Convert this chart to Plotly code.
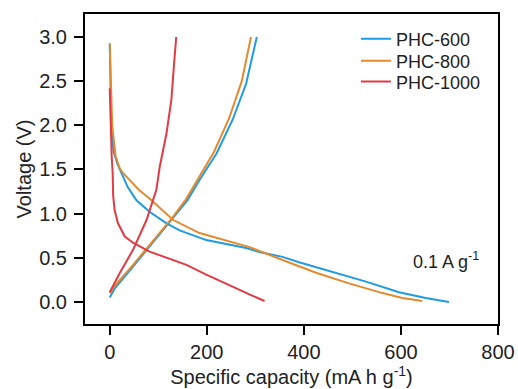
import plotly.graph_objects as go

names = ["PHC-600", "PHC-800", "PHC-1000"]
colors = ["#1f9be3", "#e38a2e", "#e23b45"]

# discharge branches (capacity, voltage)
dis600_x = [0, 1, 3, 8, 16, 24, 37, 55, 82, 117, 144, 199, 247, 281, 308, 356, 390, 459, 528, 596, 651, 699]
dis600_y = [2.92, 2.5, 2.0, 1.7, 1.56, 1.46, 1.30, 1.15, 1.02, 0.89, 0.81, 0.70, 0.645, 0.61, 0.565, 0.51, 0.45, 0.34, 0.23, 0.11, 0.045, 0.0]
dis800_x = [0, 1, 2, 5, 12, 20, 27, 60, 86, 130, 185, 247, 288, 356, 425, 493, 562, 603, 644]
dis800_y = [2.93, 2.7, 2.5, 2.0, 1.65, 1.52, 1.46, 1.27, 1.15, 0.93, 0.78, 0.68, 0.62, 0.475, 0.33, 0.21, 0.10, 0.045, 0.01]
dis1000_x = [0, 1, 2, 4, 6, 7, 10, 17, 31, 48, 82, 117, 158, 199, 253, 290, 319]
dis1000_y = [2.42, 2.2, 1.91, 1.65, 1.46, 1.20, 1.04, 0.89, 0.74, 0.67, 0.57, 0.50, 0.42, 0.31, 0.17, 0.08, 0.01]

# charge branches
chg600_x = [0, 10, 48, 89, 130, 160, 185, 220, 253, 281, 303]
chg600_y = [0.05, 0.15, 0.40, 0.68, 0.95, 1.15, 1.38, 1.68, 2.06, 2.47, 3.0]
chg800_x = [0, 10, 48, 89, 130, 158, 182, 215, 246, 272, 291]
chg800_y = [0.10, 0.18, 0.42, 0.69, 0.96, 1.17, 1.40, 1.70, 2.08, 2.50, 3.0]
chg1000_x = [0, 10, 21, 48, 76, 96, 103, 117, 127, 132, 137]
chg1000_y = [0.11, 0.22, 0.33, 0.59, 0.93, 1.27, 1.53, 1.91, 2.29, 2.66, 3.0]

x_ticks = [0, 200, 400, 600, 800]
y_ticks = [0.0, 0.5, 1.0, 1.5, 2.0, 2.5, 3.0]

series = [
    (dis600_x, dis600_y, chg600_x, chg600_y),
    (dis800_x, dis800_y, chg800_x, chg800_y),
    (dis1000_x, dis1000_y, chg1000_x, chg1000_y),
]
legend_ids = ["legend", "legend2", "legend3"]
legend_rows = [0.919, 0.848, 0.781]

font = "Arial, Liberation Sans, sans-serif"

fig = go.Figure()
for name, color, lid, (dx, dy, cx, cy) in zip(names, colors, legend_ids, series):
    fig.add_trace(go.Scatter(
        x=dx + [None] + cx, y=dy + [None] + cy, mode="lines", name=name,
        line=dict(color=color, width=2), connectgaps=False, legend=lid,
    ))

legend_layout = {}
for lid, ly in zip(legend_ids, legend_rows):
    legend_layout[lid] = dict(x=0.656, y=ly, xanchor="left", yanchor="middle",
                              font=dict(family=font, size=18, color="#222"),
                              bgcolor="rgba(0,0,0,0)")

axis_common = dict(
    showline=True, linecolor="black", linewidth=2, mirror=True,
    ticks="outside", ticklen=9, tickwidth=2, tickcolor="black",
    showgrid=False, zeroline=False, automargin=False,
    tickfont=dict(family=font, size=20, color="#222"),
)
fig.update_layout(
    width=518, height=389,
    margin=dict(l=85, r=20, t=14, b=65),
    plot_bgcolor="white", paper_bgcolor="white",
    xaxis=dict(range=[-51, 800], tickvals=x_ticks, ticktext=[str(v) for v in x_ticks],
               ticklabelstandoff=0,
               title=dict(text="Specific capacity (mA h g<sup>-1</sup>)",
                          font=dict(family=font, size=20, color="#222"), standoff=3),
               **axis_common),
    yaxis=dict(range=[-0.25, 3.26], tickvals=y_ticks, ticktext=[f"{v:.1f}" for v in y_ticks],
               ticklabelstandoff=3,
               title=dict(text="Voltage (V)", font=dict(family=font, size=20, color="#222"), standoff=2),
               **axis_common),
    showlegend=True,
    annotations=[dict(x=693, y=0.47, xref="x", yref="y", text="0.1 A g<sup>-1</sup>",
                      showarrow=False, font=dict(family=font, size=18, color="#222"))],
    **legend_layout,
)

fig.write_html("out.html")
